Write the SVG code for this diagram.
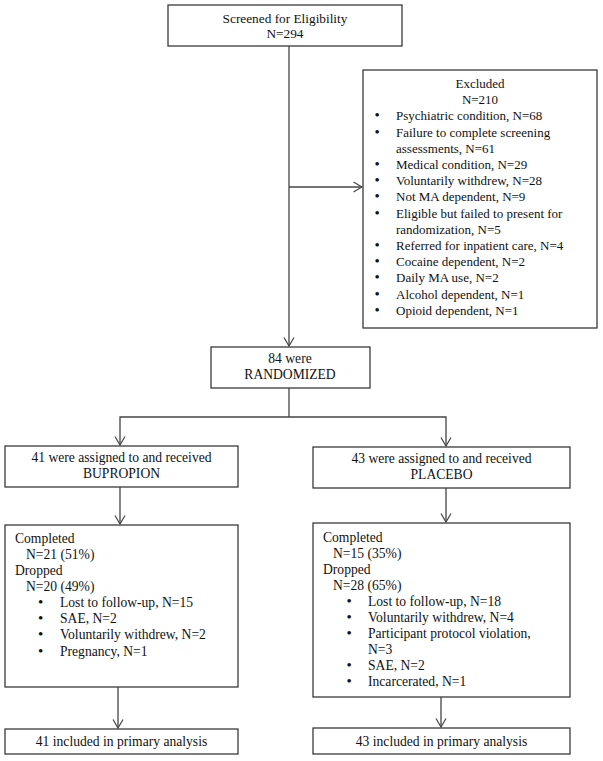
<svg xmlns="http://www.w3.org/2000/svg" width="603" height="761" viewBox="0 0 603 761">
<style>
  .box { fill: #ffffff; stroke: #3a3a3a; stroke-width: 1.3; }
  .t { font-family: "Liberation Serif", "Times New Roman", serif; font-size: 13.6px; fill: #111111; }
  .s { font-size: 13px; }
  .top { font-size: 13.3px; }
  .b { font-size: 15px; }
  .c { text-anchor: middle; }
  .conn { fill: none; stroke: #444444; stroke-width: 1.3; }
</style>
<defs>
  <marker id="arr" viewBox="0 0 10 12" refX="9.5" refY="6" markerWidth="10" markerHeight="12" markerUnits="userSpaceOnUse" orient="auto">
    <path d="M1,1 L9.5,6 L1,11" fill="none" stroke="#444444" stroke-width="1.2"/>
  </marker>
</defs>
<rect width="603" height="761" fill="#ffffff"/>

<g id="connectors">
  <path class="conn" d="M289,46 V346" marker-end="url(#arr)"/>
  <path class="conn" d="M289,187 H362" marker-end="url(#arr)"/>
  <path class="conn" d="M289,388 V417"/>
  <path class="conn" d="M289,417 H120 V445" marker-end="url(#arr)"/>
  <path class="conn" d="M289,417 H446 V446" marker-end="url(#arr)"/>
  <path class="conn" d="M120,487 V524" marker-end="url(#arr)"/>
  <path class="conn" d="M446,488 V522" marker-end="url(#arr)"/>
  <path class="conn" d="M118,687 V728" marker-end="url(#arr)"/>
  <path class="conn" d="M441,697 V727" marker-end="url(#arr)"/>
</g>

<g id="screened">
  <rect class="box" x="168" y="5" width="234" height="41"/>
  <text class="t top c" x="285" y="22.5">Screened for Eligibility</text>
  <text class="t top c" x="285" y="38">N=294</text>
</g>

<g id="excluded">
  <rect class="box" x="363" y="70" width="234" height="258"/>
  <text class="t s c" x="480" y="88">Excluded</text>
  <text class="t s c" x="480" y="104.2">N=210</text>
  <g class="t s">
    <text class="b" x="374.5" y="120.4">•</text><text x="396" y="120.4">Psychiatric condition, N=68</text>
    <text class="b" x="374.5" y="136.6">•</text><text x="396" y="136.6">Failure to complete screening</text>
    <text x="396" y="152.8">assessments, N=61</text>
    <text class="b" x="374.5" y="169">•</text><text x="396" y="169">Medical condition, N=29</text>
    <text class="b" x="374.5" y="185.2">•</text><text x="396" y="185.2">Voluntarily withdrew, N=28</text>
    <text class="b" x="374.5" y="201.4">•</text><text x="396" y="201.4">Not MA dependent, N=9</text>
    <text class="b" x="374.5" y="217.6">•</text><text x="396" y="217.6">Eligible but failed to present for</text>
    <text x="396" y="233.8">randomization, N=5</text>
    <text class="b" x="374.5" y="250">•</text><text x="396" y="250">Referred for inpatient care, N=4</text>
    <text class="b" x="374.5" y="266.2">•</text><text x="396" y="266.2">Cocaine dependent, N=2</text>
    <text class="b" x="374.5" y="282.4">•</text><text x="396" y="282.4">Daily MA use, N=2</text>
    <text class="b" x="374.5" y="298.6">•</text><text x="396" y="298.6">Alcohol dependent, N=1</text>
    <text class="b" x="374.5" y="314.8">•</text><text x="396" y="314.8">Opioid dependent, N=1</text>
  </g>
</g>

<g id="randomized">
  <rect class="box" x="211" y="347" width="159" height="41"/>
  <text class="t c" x="290" y="363">84 were</text>
  <text class="t c" x="290" y="379">RANDOMIZED</text>
</g>

<g id="bupropion">
  <rect class="box" x="5" y="446" width="233" height="41"/>
  <text class="t c" x="121.5" y="462">41 were assigned to and received</text>
  <text class="t c" x="121.5" y="478">BUPROPION</text>
</g>

<g id="placebo">
  <rect class="box" x="313" y="447" width="257" height="41"/>
  <text class="t c" x="441.5" y="463">43 were assigned to and received</text>
  <text class="t c" x="441.5" y="479">PLACEBO</text>
</g>

<g id="bupropion-outcome">
  <rect class="box" x="5" y="525" width="233" height="162"/>
  <g class="t">
    <text x="15" y="543">Completed</text>
    <text x="26" y="559">N=21 (51%)</text>
    <text x="15" y="575">Dropped</text>
    <text x="26" y="591">N=20 (49%)</text>
    <text class="b" x="38" y="607">•</text><text x="60" y="607">Lost to follow-up, N=15</text>
    <text class="b" x="38" y="623">•</text><text x="60" y="623">SAE, N=2</text>
    <text class="b" x="38" y="639">•</text><text x="60" y="639">Voluntarily withdrew, N=2</text>
    <text class="b" x="38" y="655.5">•</text><text x="60" y="655.5">Pregnancy, N=1</text>
  </g>
</g>

<g id="placebo-outcome">
  <rect class="box" x="313" y="523" width="257" height="174"/>
  <g class="t">
    <text x="323" y="541.5">Completed</text>
    <text x="333" y="557.5">N=15 (35%)</text>
    <text x="323" y="573.5">Dropped</text>
    <text x="333" y="589.5">N=28 (65%)</text>
    <text class="b" x="346.5" y="605.5">•</text><text x="368" y="605.5">Lost to follow-up, N=18</text>
    <text class="b" x="346.5" y="621.5">•</text><text x="368" y="621.5">Voluntarily withdrew, N=4</text>
    <text class="b" x="346.5" y="637.5">•</text><text x="368" y="637.5">Participant protocol violation,</text>
    <text x="368" y="653.5">N=3</text>
    <text class="b" x="346.5" y="670">•</text><text x="368" y="670">SAE, N=2</text>
    <text class="b" x="346.5" y="686">•</text><text x="368" y="686">Incarcerated, N=1</text>
  </g>
</g>

<g id="bupropion-analysis">
  <rect class="box" x="5" y="729" width="233" height="25"/>
  <text class="t c" x="121.5" y="746">41 included in primary analysis</text>
</g>

<g id="placebo-analysis">
  <rect class="box" x="313" y="728" width="257" height="26"/>
  <text class="t c" x="441.5" y="745.5">43 included in primary analysis</text>
</g>
</svg>
